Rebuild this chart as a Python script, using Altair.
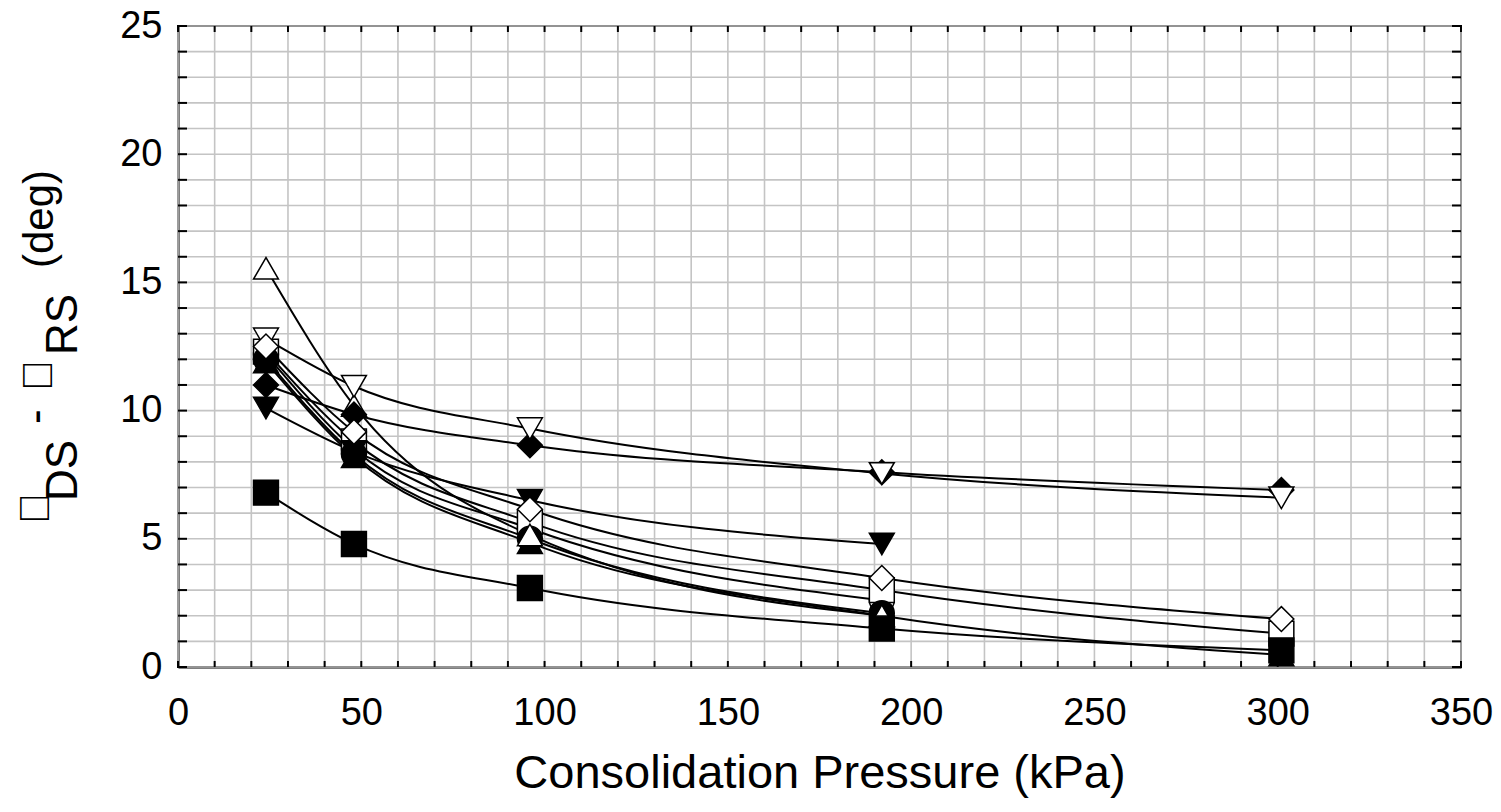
import altair as alt
import pandas as pd

# ---- data ----
pressure = [24, 48, 96, 192, 301]

series_names = ["S1", "S2", "S3", "S4", "S5", "S6", "S7", "S8", "S9", "S10"]
s1_open_tri_up = [15.55, 10.2, 5.15, 2.0]
s2_open_tri_down = [12.8, 10.95, 9.3, 7.55, 6.6]
s3_filled_diamond = [11.0, 9.85, 8.65, 7.6, 6.9]
s4_open_diamond = [12.5, 9.17, 6.15, 3.47, 1.87]
s5_open_square = [12.3, 8.8, 5.65, 3.0, 1.3]
s6_open_circle = [12.2, 8.5, 5.4, 2.6]
s7_filled_tri_up = [11.9, 8.2, 4.85, 2.0, 0.47]
s8_filled_circle = [12.0, 8.3, 5.0, 2.1]
s9_filled_tri_down = [10.1, 8.4, 6.5, 4.8]
s10_filled_square = [6.8, 4.8, 3.08, 1.5, 0.65]

series_values = [s1_open_tri_up, s2_open_tri_down, s3_filled_diamond, s4_open_diamond,
                 s5_open_square, s6_open_circle, s7_filled_tri_up, s8_filled_circle,
                 s9_filled_tri_down, s10_filled_square]

series_shapes = ["triangle-up", "triangle-down", "diamond", "diamond", "square",
                 "circle", "triangle-up", "circle", "triangle-down", "square"]
series_fills = ["white", "white", "black", "white", "white",
                "white", "black", "black", "black", "black"]
series_sizes = [620, 620, 720, 720, 400, 440, 620, 440, 620, 400]

# drawing order of markers (bottom -> top)
z_order = ["S6", "S5", "S8", "S7", "S9", "S1", "S3", "S2", "S4", "S10"]

x_labels = list(range(0, 351, 50))
y_labels = list(range(0, 26, 5))
x_minor = list(range(0, 351, 10))
y_minor = list(range(0, 26, 1))

# ---- tables ----
rows = []
for name, vals in zip(series_names, series_values):
    for p, v in zip(pressure, vals):
        rows.append({"series": name, "p": p, "v": v})
df = pd.DataFrame(rows)
df_pts = pd.concat([df[df.series == n] for n in z_order], ignore_index=True)

W, H = 1283, 641
FONT = "Liberation Sans"
GRID = "#c4c4c4"

xscale = alt.Scale(domain=[0, 350], nice=False, zero=False)
yscale = alt.Scale(domain=[0, 25], nice=False, zero=False)

x_axis = alt.Axis(values=x_labels, title="Consolidation Pressure (kPa)", grid=False,
                  ticks=False, tickSize=0, labelPadding=27, titlePadding=18,
                  labelFlush=False, labelOverlap=False)
y_axis = alt.Axis(values=y_labels, title=None, grid=False, ticks=False, tickSize=0,
                  labelPadding=16, labelFlush=False, labelOverlap=False)

xt = pd.DataFrame({"p": x_minor})
yt = pd.DataFrame({"v": y_minor})

grid_x = alt.Chart(xt).mark_rule(color=GRID, strokeWidth=1.6).encode(
    x=alt.X("p:Q", scale=xscale, axis=x_axis), y=alt.value(0), y2=alt.value(H))
grid_y = alt.Chart(yt).mark_rule(color=GRID, strokeWidth=1.6).encode(
    y=alt.Y("v:Q", scale=yscale, axis=y_axis), x=alt.value(0), x2=alt.value(W))

lines = alt.Chart(df).mark_line(color="black", strokeWidth=2, interpolate="monotone").encode(
    x=alt.X("p:Q", scale=xscale, axis=x_axis),
    y=alt.Y("v:Q", scale=yscale, axis=y_axis),
    detail="series:N",
    order="p:Q",
)

points = alt.Chart(df_pts).mark_point(filled=True, stroke="black", strokeWidth=1.5,
                                      opacity=1, fillOpacity=1).encode(
    x=alt.X("p:Q", scale=xscale, axis=x_axis),
    y=alt.Y("v:Q", scale=yscale, axis=y_axis),
    shape=alt.Shape("series:N", scale=alt.Scale(domain=series_names, range=series_shapes), legend=None),
    fill=alt.Fill("series:N", scale=alt.Scale(domain=series_names, range=series_fills), legend=None),
    size=alt.Size("series:N", scale=alt.Scale(domain=series_names, range=series_sizes), legend=None),
)

tick_bottom = alt.Chart(xt).mark_rule(color="black", strokeWidth=2).encode(
    x=alt.X("p:Q", scale=xscale, axis=x_axis), y=alt.value(H), y2=alt.value(H - 6))
tick_top = alt.Chart(xt).mark_rule(color="black", strokeWidth=2).encode(
    x=alt.X("p:Q", scale=xscale, axis=x_axis), y=alt.value(0), y2=alt.value(6))
tick_left = alt.Chart(yt).mark_rule(color="black", strokeWidth=2).encode(
    y=alt.Y("v:Q", scale=yscale, axis=y_axis), x=alt.value(0), x2=alt.value(9))
tick_right = alt.Chart(yt).mark_rule(color="black", strokeWidth=2).encode(
    y=alt.Y("v:Q", scale=yscale, axis=y_axis), x=alt.value(W), x2=alt.value(W - 9))

# y-axis title built from pieces: main line (phi glyphs from a symbol font, shown as
# missing-glyph boxes in the reference) and the DS / RS subscripts
one = pd.DataFrame({"a": [0]})
def piece(txt, xpx, ypx, size):
    return alt.Chart(one).mark_text(text=txt, angle=270, align="left", baseline="alphabetic",
                                    fontSize=size, font=FONT, color="black").encode(
        x=alt.value(xpx), y=alt.value(ypx))

PHI = "\uf066"
ytitle = [
    piece(PHI, -129, 498, 42),
    piece("DS", -101, 475, 44),
    piece("-", -128, 398, 44),
    piece(PHI, -126, 365, 42),
    piece("RS", -101, 329, 44),
    piece("(deg)", -125, 242, 42),
]

chart = alt.layer(grid_x, grid_y, lines, points, tick_bottom, tick_top, tick_left, tick_right,
                  *ytitle).properties(
    width=W, height=H,
    autosize=alt.AutoSizeParams(type="none"),
    padding={"left": 170, "top": 18, "right": 32, "bottom": 134},
).configure_view(stroke="black", strokeWidth=2).configure_axis(
    labelFont=FONT, titleFont=FONT, labelFontSize=38, titleFontSize=47,
    labelColor="black", titleColor="black", titleFontWeight="normal",
    domainColor="black", domainWidth=2, labelOverlap=False,
)

chart.save("out.html", embed_options={"renderer": "svg", "actions": False})
